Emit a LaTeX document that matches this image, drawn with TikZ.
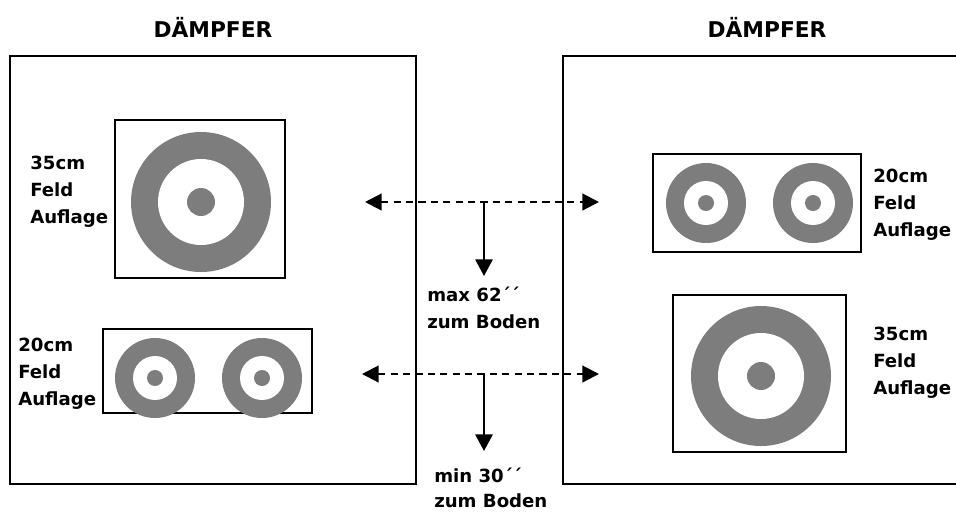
\documentclass[tikz,border=0pt]{standalone}
\usepackage{fontspec}
\setmainfont{DejaVu Sans}
\usetikzlibrary{arrows.meta}
\definecolor{tgray}{RGB}{125,125,125}
\newcommand{\mytarget}[6]{%
  \fill[tgray] (#1,#2) circle (#3);
  \fill[white] (#1,#2) circle (#4);
  \fill[tgray] (#1,#2) circle (#5);
  \coordinate (#6) at (#1,#2);}
\begin{document}
\begin{tikzpicture}[x=0.75pt,y=-0.75pt,
  frame/.style={line width=1.3pt},
  lbl/.style={font=\bfseries\fontsize{13.6}{20.25}\selectfont, align=left, inner sep=0},
  ttl/.style={font=\bfseries\fontsize{16.3}{19}\selectfont, inner sep=0},
  dasharrow/.style={line width=1.6pt, dash pattern=on 5.5pt off 3.8pt,
    {Triangle[length=12.5pt,width=12.5pt]}-{Triangle[length=12.5pt,width=12.5pt]}},
  downarrow/.style={line width=1.6pt, -{Triangle[length=12.5pt,width=13pt]}}]
\useasboundingbox (0,0) rectangle (956,512);
% big frames
\draw[frame] (10,56) rectangle (416,484);
\draw[frame] (958,56) -- (563,56) -- (563,484) -- (958,484);
% titles
\node[ttl] (tl) at (213,27) {DÄMPFER};
\node[ttl] (tr) at (767,27) {DÄMPFER};
% left 35cm
\draw[frame] (115,120) rectangle (285,278);
\mytarget{201}{202}{52.5pt}{32.25pt}{10.5pt}{ta}
\node[lbl, anchor=west] (la) at (30,192) {35cm\\Feld\\Auflage};
% left 20cm
\draw[frame] (103,329) rectangle (312,413);
\mytarget{155}{378}{30pt}{16.5pt}{6pt}{tb}
\mytarget{262}{378}{30pt}{16.5pt}{6pt}{tc}
\node[lbl, anchor=west] (lb) at (18,374) {20cm\\Feld\\Auflage};
% right 20cm
\draw[frame] (653,154) rectangle (861,252);
\mytarget{706}{203}{30pt}{16.5pt}{6pt}{td}
\mytarget{813}{203}{30pt}{16.5pt}{6pt}{te}
\node[lbl, anchor=west] (lc) at (873,205) {20cm\\Feld\\Auflage};
% right 35cm
\draw[frame] (673,295) rectangle (846,452);
\mytarget{761}{376}{52.5pt}{32.25pt}{10.5pt}{tf}
\node[lbl, anchor=west] (ld) at (873,363) {35cm\\Feld\\Auflage};
% arrows
\coordinate (aL) at (365,202);
\coordinate (aR) at (599,202);
\coordinate (aM) at (484,202);
\coordinate (aD) at (484,276);
\coordinate (bL) at (362,374);
\coordinate (bR) at (599,374);
\coordinate (bM) at (484,374);
\coordinate (bD) at (484,451);
\draw[dasharrow] (aL) -- (aR);
\draw[downarrow] (aM) -- (aD);
\draw[dasharrow] (bL) -- (bR);
\draw[downarrow] (bM) -- (bD);
\node[lbl, anchor=west] (lm) at (427,308) {max 62´´\\zum Boden};
\node[lbl, anchor=west, font=\bfseries\fontsize{13.6}{19}\selectfont] (ln) at (434,488) {min 30´´\\zum Boden};
\end{tikzpicture}
\end{document}
